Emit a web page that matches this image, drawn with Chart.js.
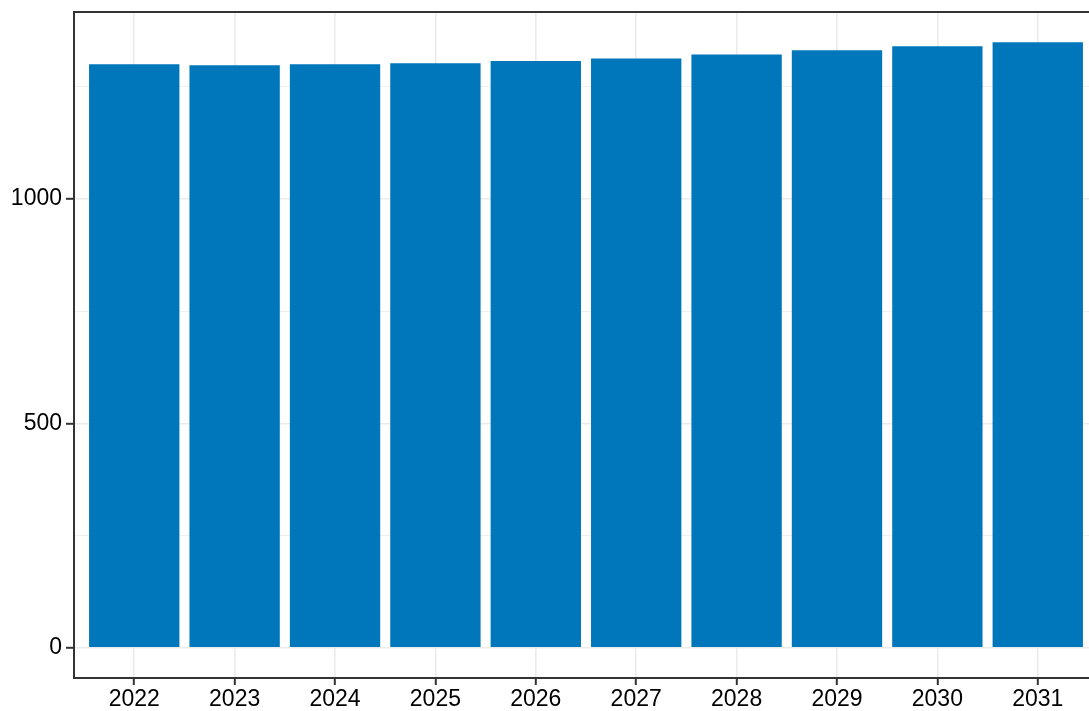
<!DOCTYPE html>
<html>
<head>
<meta charset="utf-8">
<script src="https://cdn.jsdelivr.net/npm/chart.js@4"></script>
<style>
  html, body { margin: 0; padding: 0; background: #fff; overflow: hidden; }
  #wrap { width: 1100px; height: 711px; }
</style>
</head>
<body>
<div id="wrap"><canvas id="chart" width="1100" height="711"></canvas></div>
<script>
/* DATA */
let years = [2022, 2023, 2024, 2025, 2026, 2027, 2028, 2029, 2030, 2031];
let values = [1300, 1298, 1300, 1302, 1307, 1313, 1322, 1331, 1340, 1349];
let yTicks = [0, 250, 500, 750, 1000, 1250];
let yLabels = [0, 500, 1000];

let gridColor = "#EBEBEB";
let inkColor = "#333333";

/* PANEL BORDER */
let panelBorder = {
    id: "panelBorder",
    afterDatasetsDraw(chart) {
        let a = chart.chartArea;
        let ctx = chart.ctx;
        ctx.save();
        ctx.strokeStyle = inkColor;
        ctx.lineWidth = 2;
        ctx.strokeRect(a.left, a.top, a.right - a.left, a.bottom - a.top);
        ctx.restore();
    }
};

new Chart(document.getElementById("chart"), {
    type: "bar",
    data: {
        datasets: [{
            data: years.map((yr, i) => ({ x: yr, y: values[i] })),
            backgroundColor: "#0077BB",
            borderWidth: 0,
            categoryPercentage: 1,
            barPercentage: 0.9
        }]
    },
    options: {
        responsive: false,
        animation: false,
        layout: { padding: { left: 0, right: 2, top: 12, bottom: 0 } },
        plugins: { legend: { display: false }, tooltip: { enabled: false } },
        scales: {
            x: {
                type: "linear",
                offset: false,
                min: 2021.4,
                max: 2031.6,
                afterBuildTicks: s => { s.ticks = years.map(v => ({ value: v })); },
                afterFit: s => { s.height = 33; },
                border: { display: false },
                grid: {
                    offset: false,
                    color: gridColor,
                    lineWidth: 1.6,
                    tickColor: inkColor,
                    tickWidth: 2,
                    tickLength: 7
                },
                ticks: {
                    padding: 1,
                    color: "#000",
                    font: { family: "Liberation Sans, Arial", size: 23 },
                    maxRotation: 0,
                    callback: v => String(v)
                }
            },
            y: {
                min: -67.45,
                max: 1416.45,
                afterBuildTicks: s => { s.ticks = yTicks.map(v => ({ value: v })); },
                afterFit: s => { s.width = 74; s.paddingTop = 0; s.paddingBottom = 0; },
                border: { display: false },
                grid: {
                    color: gridColor,
                    lineWidth: c => yLabels.includes(c.tick.value) ? 1.6 : 0.8,
                    tickColor: c => yLabels.includes(c.tick.value) ? inkColor : "rgba(0,0,0,0)",
                    tickWidth: 2,
                    tickLength: 8
                },
                ticks: {
                    padding: 4,
                    color: "#000",
                    font: { family: "Liberation Sans, Arial", size: 23 },
                    callback: v => yLabels.includes(v) ? String(v) : ""
                }
            }
        }
    },
    plugins: [panelBorder]
});
</script>
</body>
</html>
